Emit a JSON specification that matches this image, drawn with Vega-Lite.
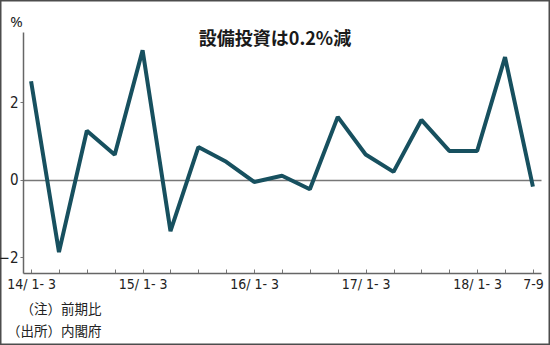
{
  "$schema": "https://vega.github.io/schema/vega-lite/v6.json",
  "width": 550,
  "height": 345,
  "autosize": {"type": "none"},
  "padding": 0,
  "background": "#ffffff",
  "config": {
    "view": {"stroke": "#4d4d4d", "strokeWidth": 3},
    "font": "Noto Sans CJK JP"
  },
  "title": {
    "text": "設備投資は0.2%減",
    "anchor": "middle",
    "frame": "group",
    "orient": "top",
    "offset": -67,
    "baseline": "bottom",
    "font": "Noto Sans CJK JP",
    "fontSize": 18,
    "fontWeight": "bold",
    "color": "#1a1a1a"
  },
  "data": {
    "values": [
      {"q": "14/1-3", "v": 2.54},
      {"q": "14/4-6", "v": -1.87},
      {"q": "14/7-9", "v": 1.26},
      {"q": "14/10-12", "v": 0.64},
      {"q": "15/1-3", "v": 3.34},
      {"q": "15/4-6", "v": -1.33},
      {"q": "15/7-9", "v": 0.84},
      {"q": "15/10-12", "v": 0.46},
      {"q": "16/1-3", "v": -0.06},
      {"q": "16/4-6", "v": 0.1},
      {"q": "16/7-9", "v": -0.25},
      {"q": "16/10-12", "v": 1.62},
      {"q": "17/1-3", "v": 0.65},
      {"q": "17/4-6", "v": 0.2},
      {"q": "17/7-9", "v": 1.54},
      {"q": "17/10-12", "v": 0.74},
      {"q": "18/1-3", "v": 0.74},
      {"q": "18/4-6", "v": 3.16},
      {"q": "18/7-9", "v": -0.18}
    ]
  },
  "mark": {"type": "line", "color": "#17505f", "strokeWidth": 4, "strokeJoin": "bevel"},
  "encoding": {
    "x": {
      "field": "q",
      "type": "ordinal",
      "sort": null,
      "scale": {"type": "point", "range": [23, 541], "padding": 0.29},
      "axis": {
        "orient": "bottom",
        "offset": -72,
        "domainColor": "#666666",
        "domainWidth": 1.5,
        "tickColor": "#777777",
        "tickSize": -4,
        "tickWidth": 1,
        "labelAngle": 0,
        "labelFont": "Liberation Sans Narrow, DejaVu Sans Condensed, Roboto Condensed, Roboto",
        "labelFontSize": 14,
        "labelColor": "#222222",
        "labelPadding": 8,
        "labelOverlap": false,
        "labelExpr": "indexof(['14/1-3','15/1-3','16/1-3','17/1-3','18/1-3'], datum.value) >= 0 ? replace(replace(datum.value, '/', '/ '), '-', '- ') : (datum.value === '18/7-9' ? '7-9' : '')",
        "title": ["（注）前期比", "（出所）内閣府"],
        "titleFont": "Noto Sans CJK JP",
        "titleFontSize": 13.5,
        "titleFontWeight": "normal",
        "titleColor": "#222222",
        "titleAlign": "right",
        "titleAnchor": null,
        "titleBaseline": "top",
        "titleX": 101,
        "titleY": 29,
        "titleLineHeight": 22
      }
    },
    "y": {
      "field": "v",
      "type": "quantitative",
      "scale": {"domain": [-2.41, 3.81], "range": [273, 32], "nice": false, "zero": false},
      "axis": {
        "orient": "left",
        "offset": -23,
        "values": [-2, 0, 2],
        "domainColor": "#666666",
        "domainWidth": 1.5,
        "tickColor": "#777777",
        "tickSize": 3,
        "labelFont": "Liberation Sans Narrow, DejaVu Sans Condensed, Roboto Condensed, Roboto",
        "labelFontSize": 15,
        "labelColor": "#222222",
        "labelPadding": 2,
        "grid": true,
        "gridColor": "#777777",
        "gridWidth": 1.5,
        "gridOpacity": {"condition": {"test": "datum.value === 0", "value": 1}, "value": 0},
        "title": "%",
        "titleAngle": 0,
        "titleFont": "Noto Sans",
        "titleFontSize": 15,
        "titleFontWeight": "normal",
        "titleColor": "#222222",
        "titleAlign": "center",
        "titleBaseline": "middle",
        "titleAnchor": null,
        "titleX": -7,
        "titleY": 21
      }
    }
  }
}
